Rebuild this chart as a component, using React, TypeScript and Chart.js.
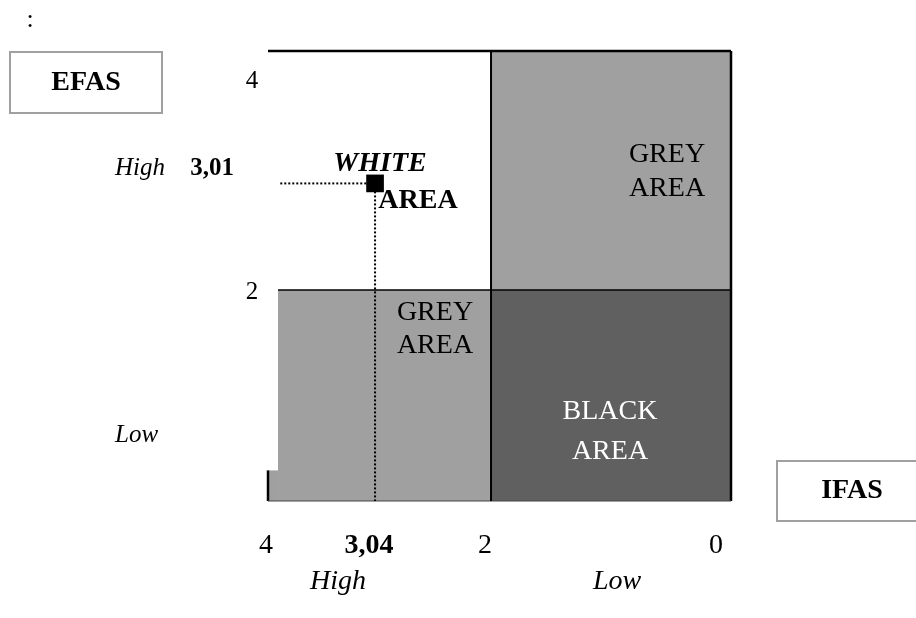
import React, { useEffect, useRef } from 'react';
import { Chart, registerables } from 'chart.js';

Chart.register(...registerables);

// ---- scale extents ----
const X_MAX = 4;
const X_MIN = -0.152;
const Y_MIN = 0;
const Y_MAX = 4.265;

// ---- axis ticks ----
const xTickValues = [4, 3.04, 2, 0];
const xTickLabels = ['4', '3,04', '2', '0'];
const xTickBold = [false, true, false, false];
const yTickValues = [4, 3.01, 2];
const yTickLabels = ['4', '3,01', '2'];
const yTickBold = [false, true, false];

// ---- level labels ----
const xLevelLabels = ['High', 'Low'];
const yLevelLabels = ['High', 'Low'];

// ---- the company position ----
const pointX = [3.04];
const pointY = [3.01];
const guideStartX = 3.89;

// ---- matrix cells (x0, x1, y0, y1) ----
const areaNames = ['WHITE AREA', 'GREY AREA', 'GREY AREA', '', 'BLACK AREA'];
const areaX0 = [4, 2, 3.91, 4, 2];
const areaX1 = [2, X_MIN, 2, 3.91, X_MIN];
const areaY0 = [2, 2, 0, 0, 0];
const areaY1 = [Y_MAX, Y_MAX, 2, 0.29, 2];

// ---- styles (kept apart from the data) ----
const areaColors = ['#ffffff', '#a0a0a0', '#a0a0a0', '#a0a0a0', '#606060'];
const SERIF = '"Liberation Serif", "Times New Roman", serif';

export default function App() {
  const canvasRef = useRef<HTMLCanvasElement | null>(null);

  useEffect(() => {
    const canvas = canvasRef.current;
    if (!canvas) return;

    const matrixPlugin = {
      id: 'matrix',
      beforeDatasetsDraw(chart: any) {
        const { ctx, scales } = chart;
        const xs = scales.x;
        const ys = scales.y;
        const px = (v: number) => xs.getPixelForValue(v);
        const py = (v: number) => ys.getPixelForValue(v);
        ctx.save();
        for (let i = 0; i < areaNames.length; i++) {
          const x0 = px(areaX0[i]);
          const x1 = px(areaX1[i]);
          const y0 = py(areaY0[i]);
          const y1 = py(areaY1[i]);
          ctx.fillStyle = areaColors[i];
          ctx.fillRect(Math.min(x0, x1), Math.min(y0, y1), Math.abs(x1 - x0), Math.abs(y1 - y0));
        }
        const line = (xa: number, ya: number, xb: number, yb: number, w: number, c: string) => {
          ctx.beginPath();
          ctx.strokeStyle = c;
          ctx.lineWidth = w;
          ctx.moveTo(px(xa), py(ya));
          ctx.lineTo(px(xb), py(yb));
          ctx.stroke();
        };
        // outer frame pieces
        line(X_MAX, Y_MAX, X_MIN, Y_MAX, 2.5, '#000');
        line(X_MIN, Y_MAX, X_MIN, Y_MIN, 2.5, '#000');
        line(X_MAX, Y_MIN, X_MAX, areaY1[3], 2.5, '#000');
        line(X_MAX, Y_MIN, X_MIN, Y_MIN, 1, '#444');
        // dividers
        line(2, Y_MAX, 2, Y_MIN, 2, '#000');
        line(areaX0[2], 2, X_MIN, 2, 1.5, '#000');
        ctx.restore();
      },
      afterDatasetsDraw(chart: any) {
        const { ctx, scales } = chart;
        const xs = scales.x;
        const ys = scales.y;
        ctx.save();
        ctx.textAlign = 'center';
        ctx.textBaseline = 'middle';
        const text = (s: string, x: number, y: number, font: string, color = '#000') => {
          ctx.font = font;
          ctx.fillStyle = color;
          ctx.fillText(s, x, y);
        };

        // bottom tick labels
        for (let i = 0; i < xTickValues.length; i++) {
          const x = xs.getPixelForValue(xTickValues[i]);
          const dx = i === 0 ? -2 : i === 1 ? -6 : i === 2 ? -6 : 2;
          text(xTickLabels[i], x + dx, 546, `${xTickBold[i] ? 'bold ' : ''}28px ${SERIF}`);
        }
        // left tick labels
        for (let i = 0; i < yTickValues.length; i++) {
          const y = ys.getPixelForValue(yTickValues[i]);
          if (yTickBold[i]) {
            text(yTickLabels[i], 212, y - 15, `bold 25px ${SERIF}`);
          } else {
            text(yTickLabels[i], 252, y + 2, `25px ${SERIF}`);
          }
        }
        // level labels
        ctx.textAlign = 'left';
        text(yLevelLabels[0], 115, ys.getPixelForValue(pointY[0]) - 15, `italic 25px ${SERIF}`);
        text(yLevelLabels[1], 115, 435, `italic 25px ${SERIF}`);
        ctx.textAlign = 'center';
        text(xLevelLabels[0], 338, 582, `italic 28px ${SERIF}`);
        text(xLevelLabels[1], 617, 582, `italic 28px ${SERIF}`);

        // area labels
        const [wA, wB] = areaNames[0].split(' ');
        text(wA, 380, 164, `bold italic 28px ${SERIF}`);
        text(wB, 418, 201, `bold 28px ${SERIF}`);
        const [g1a, g1b] = areaNames[1].split(' ');
        text(g1a, 667, 155, `28px ${SERIF}`);
        text(g1b, 667, 189, `28px ${SERIF}`);
        const [g2a, g2b] = areaNames[2].split(' ');
        text(g2a, 435, 313, `28px ${SERIF}`);
        text(g2b, 435, 346, `28px ${SERIF}`);
        const [bA, bB] = areaNames[4].split(' ');
        text(bA, 610, 412, `28px ${SERIF}`, '#ffffff');
        text(bB, 610, 452, `28px ${SERIF}`, '#ffffff');

        // EFAS / IFAS boxes
        ctx.strokeStyle = '#a0a0a0';
        ctx.lineWidth = 2;
        ctx.strokeRect(10, 52, 152, 61);
        ctx.strokeRect(777, 461, 150, 60);
        text('EFAS', 86, 83, `bold 28px ${SERIF}`);
        text('IFAS', 852, 491, `bold 28px ${SERIF}`);
        text(':', 30, 20, `26px ${SERIF}`);
        ctx.restore();
      },
    };

    const chart = new Chart(canvas, {
      type: 'scatter',
      data: {
        datasets: [
          {
            label: 'horizontal guide',
            data: [
              { x: guideStartX, y: pointY[0] },
              { x: pointX[0], y: pointY[0] },
            ],
            showLine: true,
            borderColor: '#000',
            borderWidth: 2,
            borderDash: [2, 2],
            pointRadius: 0,
          },
          {
            label: 'vertical guide',
            data: [
              { x: pointX[0], y: pointY[0] },
              { x: pointX[0], y: Y_MIN },
            ],
            showLine: true,
            borderColor: '#000',
            borderWidth: 2,
            borderDash: [2, 2],
            pointRadius: 0,
          },
          {
            label: 'position',
            data: pointX.map((x, i) => ({ x, y: pointY[i] })),
            pointStyle: 'rect',
            pointRadius: 12.5,
            backgroundColor: '#000',
            borderColor: '#000',
            borderWidth: 0,
          },
        ],
      },
      options: {
        responsive: false,
        animation: false,
        devicePixelRatio: 1,
        layout: { padding: { left: 268, right: 185, top: 51, bottom: 117 } },
        plugins: { legend: { display: false }, tooltip: { enabled: false } },
        scales: {
          x: { type: 'linear', reverse: true, min: X_MIN, max: X_MAX, display: false },
          y: { type: 'linear', min: Y_MIN, max: Y_MAX, display: false },
        },
      },
      plugins: [matrixPlugin],
    });

    return () => chart.destroy();
  }, []);

  return (
    <div style={{ position: 'absolute', left: 0, top: 0, width: 916, height: 618, background: '#fff', overflow: 'hidden' }}>
      <canvas ref={canvasRef} width={916} height={618} style={{ width: 916, height: 618, display: 'block' }} />
    </div>
  );
}
